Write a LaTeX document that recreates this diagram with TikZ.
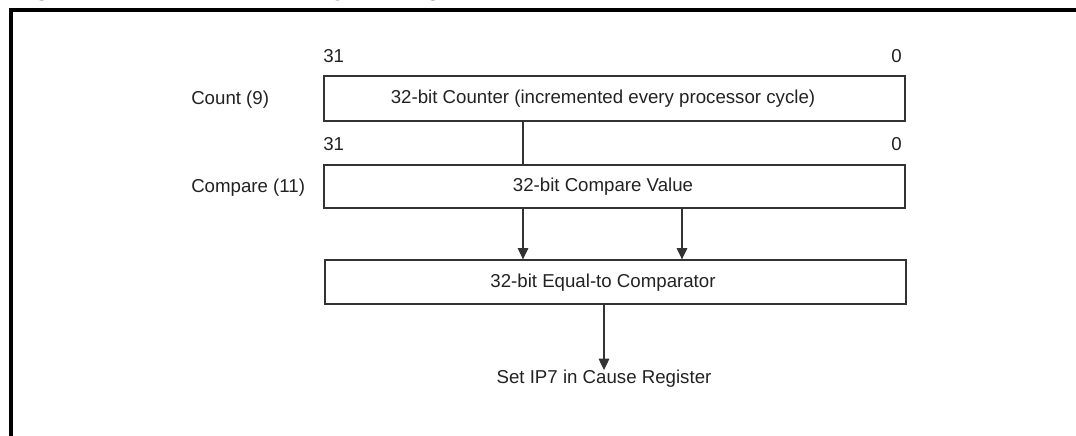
\documentclass[tikz,border=0pt]{standalone}
\usepackage{fontspec}
\setmainfont{Liberation Sans}
\usetikzlibrary{arrows.meta}
\definecolor{ink}{HTML}{222222}
\definecolor{edge}{HTML}{333333}
\begin{document}
\begin{tikzpicture}[x=0.75pt,y=-0.75pt,
  every node/.style={font=\fontsize{14}{16}\selectfont, text=ink, inner sep=0pt},
  regbox/.style={draw=edge, line width=1pt, minimum width=435.75pt, minimum height=33pt, inner sep=0pt},
  bitlbl/.style={font=\fontsize{14}{16}\selectfont},
  conn/.style={draw=edge, line width=0.8pt},
  arr/.style={conn, -{Triangle[length=8.5pt,width=8pt]}},
  frame/.style={line width=2.3pt, black}]
\useasboundingbox (0,0) rectangle (1076,436);
\begin{scope}
\clip (0,0) rectangle (1076,436);
\node[anchor=base west, font=\fontsize{18.75}{20}\selectfont\bfseries, text=black] (title) at (12,-5) {Figure 5-2. Count and Compare Registers};
\draw[frame] (1076,10) -- (11,10) -- (11,437);
\end{scope}
% bit numbers
\node[bitlbl, anchor=west] (b31a) at (323,56) {31};
\node[bitlbl, anchor=east] (b0a) at (902,56) {0};
\node[bitlbl, anchor=west] (b31b) at (323,144) {31};
\node[bitlbl, anchor=east] (b0b) at (902,144) {0};
% registers
\node[regbox, minimum height=33.75pt] (cnt) at (614.5,98.5) {};
\node (cnttxt) at (603,98.5) {32-bit Counter (incremented every processor cycle)};
\node[regbox, minimum height=32.25pt] (cmp) at (614.5,186.5) {};
\node (cmptxt) at (603,186.5) {32-bit Compare Value};
\node[regbox] (eq) at (615.5,282) {};
\node (eqtxt) at (603,283) {32-bit Equal-to Comparator};
\node (out) at (604,379) {Set IP7 in Cause Register};
% left labels
\node[anchor=west] (lcnt) at (191,100) {Count (9)};
\node[anchor=west] (lcmp) at (191,188) {Compare (11)};
% connectors
\coordinate (xa) at (523,0);
\coordinate (xb) at (682,0);
\draw[conn] (cnt.south -| xa) -- (cmp.north -| xa);
\draw[arr] (cmp.south -| xa) -- (eq.north -| xa);
\draw[arr] (cmp.south -| xb) -- (eq.north -| xb);
\draw[arr] (eq.south -| out) -- (out.north);
\end{tikzpicture}
\end{document}
